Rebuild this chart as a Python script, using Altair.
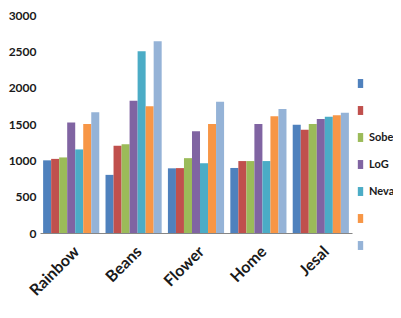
import altair as alt
import pandas as pd

categories = ["Rainbow", "Beans", "Flower", "Home", "Jesal"]
series = ["Roberts", "Prewitt", "Sobel", "LoG", "Nevatia", "Canny", "Proposed"]
colors = ["#4F81BD", "#C0504D", "#9BBB59", "#8064A2", "#4BACC6", "#F79646", "#95B3D7"]
values = {
    "Roberts":  [1000, 800, 890, 895, 1490],
    "Prewitt":  [1020, 1200, 893, 990, 1420],
    "Sobel":    [1040, 1220, 1030, 990, 1500],
    "LoG":      [1520, 1820, 1400, 1500, 1570],
    "Nevatia":  [1150, 2500, 960, 990, 1600],
    "Canny":    [1500, 1745, 1500, 1605, 1620],
    "Proposed": [1660, 2640, 1805, 1705, 1655],
}
shown_labels = ["Sobel", "LoG", "Nevatia"]

rows = []
for s in series:
    for c, v in zip(categories, values[s]):
        rows.append({"category": c, "series": s, "value": v})
df = pd.DataFrame(rows)

W, H = 312, 218
PL, PT = 32, 7
PR = 385 - PL - W
PB = 302 - PT - H

label_expr = "indexof(" + str(shown_labels) + ", datum.label) >= 0 ? datum.label : ''"

chart = alt.Chart(df).mark_bar().encode(
    x=alt.X("category:N", sort=categories,
            scale=alt.Scale(paddingInner=0.1, paddingOuter=0.05),
            axis=alt.Axis(title=None, labelAngle=-45, labelAlign="right", labelBaseline="top",
                          labelFont="Lato", labelFontSize=16, labelFontWeight="bold",
                          labelColor="#1a1a1a", labelPadding=10, ticks=False,
                          domainColor="#868686", domainWidth=1)),
    xOffset=alt.XOffset("series:N", sort=series, scale=alt.Scale(paddingInner=0, paddingOuter=0)),
    y=alt.Y("value:Q", scale=alt.Scale(domain=[0, 3000], nice=False),
            axis=alt.Axis(title=None, values=[0, 500, 1000, 1500, 2000, 2500, 3000], format="d",
                          labelFont="Lato", labelFontSize=12, labelFontWeight="bold",
                          labelColor="#1a1a1a", labelPadding=4, ticks=False,
                          domain=False, grid=False)),
    color=alt.Color("series:N", sort=series,
                    scale=alt.Scale(domain=series, range=colors),
                    legend=alt.Legend(title=None, orient="none", legendX=315, legendY=63,
                                      symbolType="M-0.6,-1H0.6V1H-0.6Z", symbolSize=80,
                                      symbolStrokeWidth=0,
                                      labelFont="Lato", labelFontSize=11, labelFontWeight="bold",
                                      labelColor="#1a1a1a", labelExpr=label_expr,
                                      labelLimit=200, rowPadding=15, labelOffset=3)),
).properties(
    width=W, height=H,
    autosize=alt.AutoSizeParams(type="none"),
    padding={"left": PL, "top": PT, "right": PR, "bottom": PB},
).configure_view(stroke=None)

chart.save("out.html", embed_options={"renderer": "svg", "actions": False})
